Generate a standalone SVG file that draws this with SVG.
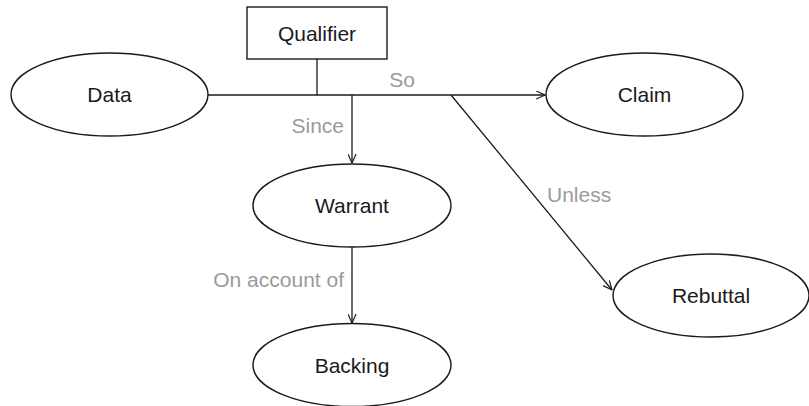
<svg xmlns="http://www.w3.org/2000/svg" width="809" height="406" viewBox="0 0 809 406">
  <style>
    .shape { fill: #ffffff; stroke: #1a1a1a; stroke-width: 1.4; }
    .edge { fill: none; stroke: #1a1a1a; stroke-width: 1.3; }
    .label { font-family: "Liberation Sans", Arial, sans-serif; font-size: 21px; fill: #1a1a1a; text-anchor: middle; }
    .rel { font-family: "Liberation Sans", Arial, sans-serif; font-size: 21px; fill: #9a9a9a; }
  </style>
  <defs>
    <marker id="arrow" viewBox="0 0 10 10" refX="10" refY="5" markerWidth="10" markerHeight="9" markerUnits="userSpaceOnUse" orient="auto">
      <path d="M0,0.5 L10,5 L0,9.5" fill="none" stroke="#1a1a1a" stroke-width="1.3"/>
    </marker>
  </defs>
  <rect width="809" height="406" fill="#ffffff"/>

  <g id="connectors">
    <!-- Data to Claim -->
    <path class="edge" d="M208,95 H545" marker-end="url(#arrow)"/>
    <!-- Qualifier stem -->
    <path class="edge" d="M317,59 V95"/>
    <!-- to Warrant -->
    <path class="edge" d="M352,95 V163" marker-end="url(#arrow)"/>
    <!-- Warrant to Backing -->
    <path class="edge" d="M352,247 V323" marker-end="url(#arrow)"/>
    <!-- to Rebuttal -->
    <path class="edge" d="M451,95 L612,290" marker-end="url(#arrow)"/>
    <text class="rel" x="402" y="87" text-anchor="middle">So</text>
    <text class="rel" x="344" y="133" text-anchor="end">Since</text>
    <text class="rel" x="344" y="287" text-anchor="end">On account of</text>
    <text class="rel" x="547" y="202">Unless</text>
  </g>

  <g id="qualifier">
    <rect class="shape" x="247" y="7" width="140" height="52"/>
    <text class="label" x="317" y="40.5">Qualifier</text>
  </g>

  <g id="data">
    <ellipse class="shape" cx="109.5" cy="94.5" rx="98.5" ry="41.5"/>
    <text class="label" x="109.5" y="102">Data</text>
  </g>

  <g id="claim">
    <ellipse class="shape" cx="644.5" cy="94.5" rx="98.5" ry="41.5"/>
    <text class="label" x="644.5" y="102">Claim</text>
  </g>

  <g id="warrant">
    <ellipse class="shape" cx="352" cy="205.5" rx="99" ry="41.5"/>
    <text class="label" x="352" y="213">Warrant</text>
  </g>

  <g id="backing">
    <ellipse class="shape" cx="352" cy="365" rx="99" ry="41.5"/>
    <text class="label" x="352" y="372.5">Backing</text>
  </g>

  <g id="rebuttal">
    <ellipse class="shape" cx="711" cy="295.5" rx="98" ry="41.5"/>
    <text class="label" x="711" y="302.5">Rebuttal</text>
  </g>
</svg>
